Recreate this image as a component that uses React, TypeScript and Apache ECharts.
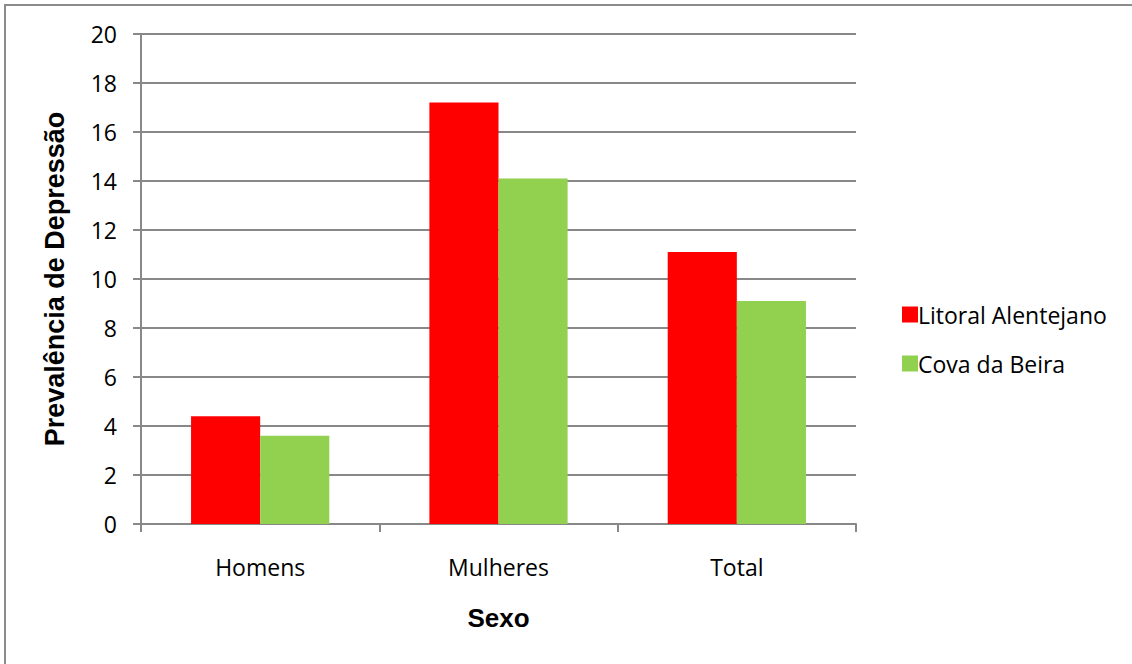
import React, { useEffect, useRef } from "react";
import * as echarts from "echarts";

const categories = ["Homens", "Mulheres", "Total"];
const litoralAlentejano = [4.4, 17.2, 11.1];
const covaDaBeira = [3.6, 14.1, 9.1];
const seriesNames = ["Litoral Alentejano", "Cova da Beira"];

export default function App() {
  const ref = useRef<HTMLDivElement>(null);
  useEffect(() => {
    document.body.style.margin = "0";
    const chart = echarts.init(ref.current!, null, { renderer: "svg" });
    const labelFont = "'Open Sans', 'Noto Sans', sans-serif";
    const titleFont = "'Liberation Sans', Arial, sans-serif";
    chart.setOption({
      animation: false,
      backgroundColor: "#ffffff",
      graphic: [
        {
          type: "rect",
          shape: { x: 5, y: 5, width: 1200, height: 700 },
          style: { fill: "none", stroke: "#8c8c8c", lineWidth: 2 },
          silent: true,
        },
      ],
      grid: { left: 141, right: 276, top: 34, bottom: 140, containLabel: false },
      legend: {
        orient: "vertical",
        left: 897,
        top: 298,
        itemWidth: 16,
        itemHeight: 16,
        itemGap: 26,
        icon: "rect",
        textStyle: { fontFamily: labelFont, fontSize: 23, color: "#000", padding: [0, 0, 0, -5] },
        data: seriesNames,
      },
      xAxis: {
        type: "category",
        data: categories,
        name: "Sexo",
        nameLocation: "middle",
        nameGap: 81,
        nameTextStyle: { fontFamily: titleFont, fontWeight: "bold", fontSize: 26, color: "#000" },
        axisLine: { lineStyle: { color: "#888", width: 2 } },
        axisTick: { show: true, length: 8, alignWithLabel: false, lineStyle: { color: "#888", width: 2 } },
        axisLabel: { fontFamily: labelFont, fontSize: 23, color: "#000", margin: 31 },
      },
      yAxis: {
        type: "value",
        min: 0,
        max: 20,
        interval: 2,
        name: "Prevalência de Depressão",
        nameLocation: "middle",
        nameGap: 73,
        nameTextStyle: { fontFamily: titleFont, fontWeight: "bold", fontSize: 27, color: "#000" },
        axisLine: { show: true, lineStyle: { color: "#888", width: 2 } },
        axisTick: { show: true, length: 8, lineStyle: { color: "#888", width: 2 } },
        axisLabel: { fontFamily: labelFont, fontSize: 23, color: "#000", margin: 24 },
        splitLine: { show: true, lineStyle: { color: "#888", width: 2 } },
      },
      series: [
        {
          name: seriesNames[0],
          type: "bar",
          data: litoralAlentejano,
          itemStyle: { color: "#ff0000" },
          barGap: "0%",
          barCategoryGap: "42%",
        },
        {
          name: seriesNames[1],
          type: "bar",
          data: covaDaBeira,
          itemStyle: { color: "#92d050" },
        },
      ],
    });
    return () => chart.dispose();
  }, []);
  return <div ref={ref} style={{ width: 1132, height: 664 }} />;
}
